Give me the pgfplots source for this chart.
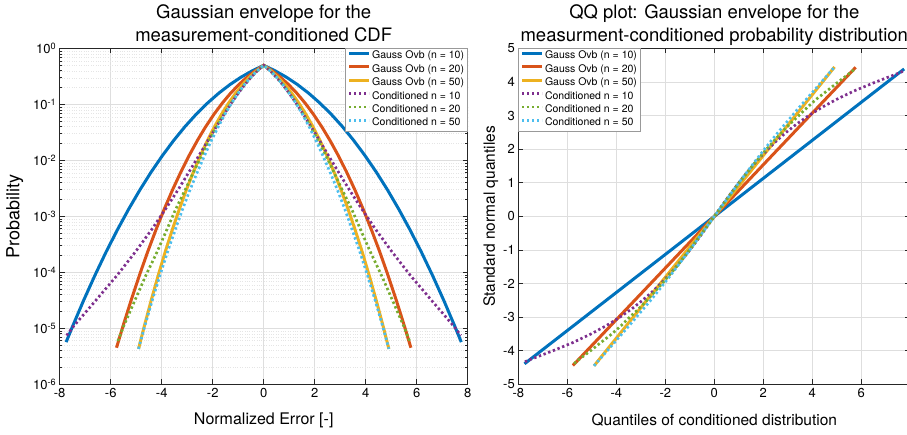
\documentclass[border=0pt]{standalone}
\usepackage{fontspec}
\setmainfont{TeX Gyre Heros}
\usepackage{pgfplots}
\usepackage{pgfplotstable}
\pgfplotsset{compat=1.18}

\definecolor{mblue}{rgb}{0,0.447,0.741}
\definecolor{mred}{rgb}{0.850,0.325,0.098}
\definecolor{myellow}{rgb}{0.929,0.694,0.125}
\definecolor{mpurple}{rgb}{0.494,0.184,0.556}
\definecolor{mgreen}{rgb}{0.466,0.674,0.188}
\definecolor{mcyan}{rgb}{0.301,0.745,0.933}

% q = standard normal quantile, p = tail probability, then x for each series
\pgfplotstableread{
q p g10 g20 g50 c10 c20 c50
-4.45 4.29e-6 nan nan -4.908 nan nan -4.91
-4.44 4.50e-6 nan -5.772 nan nan nan nan
-4.39 5.67e-6 -7.748 nan nan nan nan nan
-4.38 5.94e-6 nan nan nan nan -5.72 nan
-4.33 7.45e-6 nan nan nan -7.73 nan nan
-4.25 1.07e-5 -7.501 -5.525 -4.688 -7.47 -5.50 -4.67
-4.00 3.17e-5 -7.060 -5.200 -4.412 -6.58 -5.05 -4.37
-3.75 8.84e-5 -6.619 -4.875 -4.136 -5.75 -4.62 -4.07
-3.50 2.33e-4 -6.178 -4.550 -3.861 -5.03 -4.18 -3.77
-3.25 5.77e-4 -5.736 -4.225 -3.585 -4.40 -3.80 -3.47
-3.00 1.35e-3 -5.295 -3.900 -3.309 -3.85 -3.45 -3.18
-2.75 2.98e-3 -4.854 -3.575 -3.033 -3.36 -3.08 -2.89
-2.50 6.21e-3 -4.413 -3.250 -2.758 -2.93 -2.75 -2.60
-2.25 1.222e-2 -3.971 -2.925 -2.482 -2.54 -2.44 -2.32
-2.00 2.275e-2 -3.530 -2.600 -2.206 -2.184 -2.13 -2.05
-1.75 4.01e-2 -3.089 -2.275 -1.930 -1.857 -1.84 -1.78
-1.50 6.68e-2 -2.648 -1.950 -1.655 -1.554 -1.55 -1.52
-1.25 0.1056 -2.206 -1.625 -1.379 -1.269 -1.28 -1.26
-1.00 0.1587 -1.765 -1.300 -1.103 -0.998 -1.01 -1.00
-0.75 0.2266 -1.324 -0.975 -0.827 -0.739 -0.755 -0.75
-0.50 0.3085 -0.883 -0.650 -0.552 -0.488 -0.50 -0.50
-0.25 0.4013 -0.441 -0.325 -0.276 -0.243 -0.25 -0.25
0 0.5 0 0 0 0 0 0
0.25 0.4013 0.441 0.325 0.276 0.243 0.25 0.25
0.50 0.3085 0.883 0.650 0.552 0.488 0.50 0.50
0.75 0.2266 1.324 0.975 0.827 0.739 0.755 0.75
1.00 0.1587 1.765 1.300 1.103 0.998 1.01 1.00
1.25 0.1056 2.206 1.625 1.379 1.269 1.28 1.26
1.50 6.68e-2 2.648 1.950 1.655 1.554 1.55 1.52
1.75 4.01e-2 3.089 2.275 1.930 1.857 1.84 1.78
2.00 2.275e-2 3.530 2.600 2.206 2.184 2.13 2.05
2.25 1.222e-2 3.971 2.925 2.482 2.54 2.44 2.32
2.50 6.21e-3 4.413 3.250 2.758 2.93 2.75 2.60
2.75 2.98e-3 4.854 3.575 3.033 3.36 3.08 2.89
3.00 1.35e-3 5.295 3.900 3.309 3.85 3.45 3.18
3.25 5.77e-4 5.736 4.225 3.585 4.40 3.80 3.47
3.50 2.33e-4 6.178 4.550 3.861 5.03 4.18 3.77
3.75 8.84e-5 6.619 4.875 4.136 5.75 4.62 4.07
4.00 3.17e-5 7.060 5.200 4.412 6.58 5.05 4.37
4.25 1.07e-5 7.501 5.525 4.688 7.47 5.50 4.67
4.33 7.45e-6 nan nan nan 7.73 nan nan
4.38 5.94e-6 nan nan nan nan 5.72 nan
4.39 5.67e-6 7.748 nan nan nan nan nan
4.44 4.50e-6 nan 5.772 nan nan nan nan
4.45 4.29e-6 nan nan 4.908 nan nan 4.91
}\qtab

\pgfplotsset{
  mat/.style={
    scale only axis, height=335.8pt,
    xmin=-8, xmax=8, xtick={-8,-6,...,8},
    xticklabels={-8,-6,-4,-2,0,2,4,6,8},
    tick align=inside, major tick length=5pt, minor tick length=2.5pt,
    axis line style={black!85, line width=0.7pt},
    every tick/.style={black!85, line width=0.7pt},
    major grid style={black!13, line width=0.7pt},
    minor grid style={black!10, dotted, line width=0.5pt},
    tick label style={font=\fontsize{13}{15}\selectfont},
    title style={font=\fontsize{18.5}{22.5}\selectfont, align=center,
      at={(axis description cs:0.5,1)}, anchor=south, inner sep=0pt,
      text depth=4pt, yshift=-3pt},
    legend style={font=\fontsize{10.5}{12}\selectfont, draw=black!40,
      fill=white, inner xsep=2pt, inner ysep=1pt,
      cells={anchor=west}, row sep=0pt,
      nodes={fill=none, inner xsep=1.5pt, inner ysep=1.2pt, text height=8pt, text depth=3pt}},
    legend image code/.code={\draw[##1, line cap=butt] (0pt,3pt) -- (20pt,3pt);},
  },
  gline/.style={line width=3pt, solid},
  cline/.style={line width=2.7pt, dash pattern=on 2.4pt off 2.6pt},
}

\begin{document}
\begin{tikzpicture}
\begin{axis}[mat, width=408pt,
  ymode=log, ymin=1e-6, ymax=1,
  ytick={1e-6,1e-5,1e-4,1e-3,1e-2,1e-1,1},
  yticklabels={10\textsuperscript{-6},10\textsuperscript{-5},10\textsuperscript{-4},
    10\textsuperscript{-3},10\textsuperscript{-2},10\textsuperscript{-1},10\textsuperscript{0}},
  minor ytick={2e-6,3e-6,4e-6,5e-6,6e-6,7e-6,8e-6,9e-6,
    2e-5,3e-5,4e-5,5e-5,6e-5,7e-5,8e-5,9e-5,
    2e-4,3e-4,4e-4,5e-4,6e-4,7e-4,8e-4,9e-4,
    2e-3,3e-3,4e-3,5e-3,6e-3,7e-3,8e-3,9e-3,
    2e-2,3e-2,4e-2,5e-2,6e-2,7e-2,8e-2,9e-2,
    0.2,0.3,0.4,0.5,0.6,0.7,0.8,0.9},
  grid=both,
  title={Gaussian envelope for the\\measurement-conditioned CDF},
  xlabel={Normalized Error [-]},
  ylabel={Probability},
  xlabel style={font=\fontsize{16}{18}\selectfont, at={(axis description cs:0.5,-0.106)}, anchor=center},
  ylabel style={font=\fontsize{18}{20}\selectfont, at={(axis description cs:-0.11,0.5)}, anchor=center},
  legend style={at={(1,1)}, anchor=north east},
]
\addplot[gline, mblue] table[x=g10, y=p] {\qtab};
\addlegendentry{Gauss Ovb (n = 10)}
\addplot[gline, mred] table[x=g20, y=p] {\qtab};
\addlegendentry{Gauss Ovb (n = 20)}
\addplot[gline, myellow] table[x=g50, y=p] {\qtab};
\addlegendentry{Gauss Ovb (n = 50)}
\addplot[cline, mpurple] table[x=c10, y=p] {\qtab};
\addlegendentry{Conditioned n = 10}
\addplot[cline, mgreen] table[x=c20, y=p] {\qtab};
\addlegendentry{Conditioned n = 20}
\addplot[cline, mcyan] table[x=c50, y=p] {\qtab};
\addlegendentry{Conditioned n = 50}
\end{axis}

\begin{axis}[mat, width=392pt, at={(458.6pt,0pt)},
  xticklabels={-8,-6,-4,-2,0,2,4,6,{}},
  ymin=-5, ymax=5, ytick={-5,-4,...,5},
  yticklabels={-5,-4,-3,-2,-1,0,1,2,3,4,5},
  grid=major,
  title={QQ plot: Gaussian envelope for the\\measurment-conditioned probability distribution},
  xlabel={Quantiles of conditioned distribution},
  ylabel={Standard normal quantiles},
  xlabel style={font=\fontsize{15.5}{17}\selectfont, at={(axis description cs:0.5,-0.106)}, anchor=center},
  ylabel style={font=\fontsize{15.5}{17}\selectfont, at={(axis description cs:-0.07,0.5)}, anchor=center},
  legend style={at={(0,1)}, anchor=north west},
]
\addplot[gline, mblue] table[x=g10, y=q] {\qtab};
\addlegendentry{Gauss Ovb (n = 10)}
\addplot[gline, mred] table[x=g20, y=q] {\qtab};
\addlegendentry{Gauss Ovb (n = 20)}
\addplot[gline, myellow] table[x=g50, y=q] {\qtab};
\addlegendentry{Gauss Ovb (n = 50)}
\addplot[cline, mpurple] table[x=c10, y=q] {\qtab};
\addlegendentry{Conditioned n = 10}
\addplot[cline, mgreen] table[x=c20, y=q] {\qtab};
\addlegendentry{Conditioned n = 20}
\addplot[cline, mcyan] table[x=c50, y=q] {\qtab};
\addlegendentry{Conditioned n = 50}
\end{axis}
\pgfresetboundingbox
\useasboundingbox (-59.7pt,-50.7pt) rectangle (847.3pt,384.3pt);
\end{tikzpicture}
\end{document}
